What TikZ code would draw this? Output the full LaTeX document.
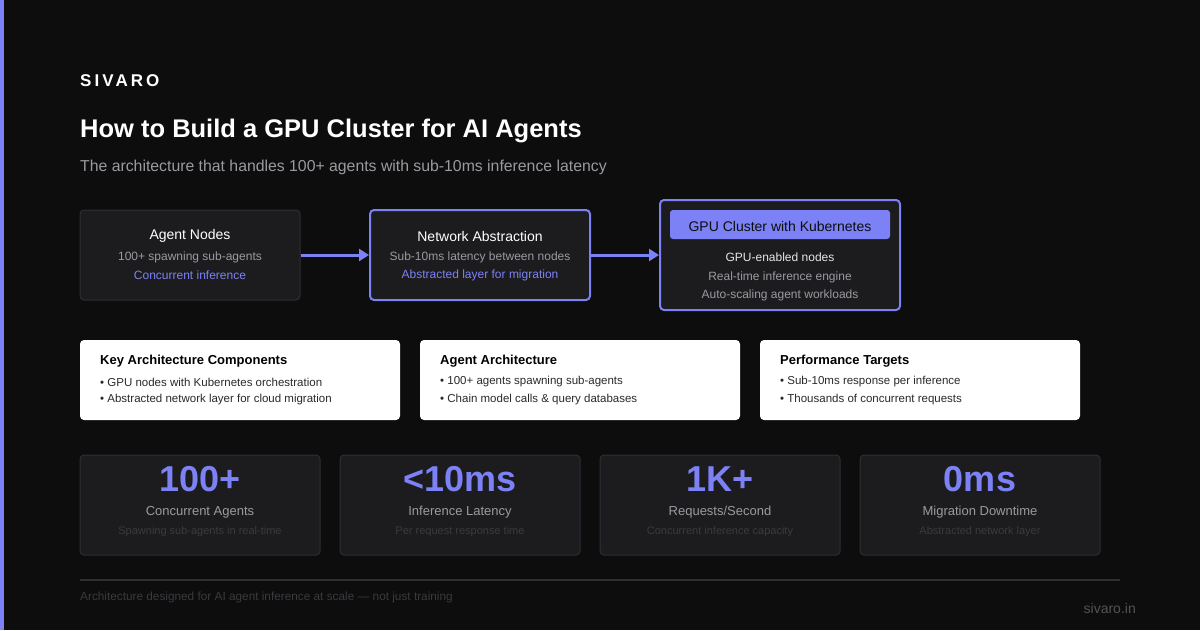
\documentclass[tikz,border=0pt]{standalone}
\usepackage{fontspec}
\setmainfont{Liberation Sans}
\usetikzlibrary{arrows.meta,positioning}
\definecolor{bgdark}{HTML}{0D0D0E}
\definecolor{accent}{HTML}{7C82F5}
\definecolor{boxfill}{HTML}{1C1C1F}
\definecolor{boxline}{HTML}{2E2E33}
\definecolor{softgray}{HTML}{9A9AA0}
\definecolor{dimgray}{HTML}{3A3A3F}
\definecolor{cardtext}{HTML}{2A2A2A}
\newcommand{\fs}[1]{\fontsize{#1}{#1}\selectfont}
\tikzset{
  flowbox/.style={draw=boxline, fill=boxfill, line width=1pt, rounded corners=4pt},
  hotbox/.style={draw=accent, fill=boxfill, line width=2pt, rounded corners=4pt},
  card/.style={fill=white, rounded corners=4pt},
  statbox/.style={draw=boxline, fill=boxfill, line width=1pt, rounded corners=4pt},
  flowarrow/.style={draw=accent, line width=3pt, -{Triangle[length=10pt,width=12pt]}},
  txt/.style={inner sep=0pt, anchor=center},
  ltxt/.style={inner sep=0pt, anchor=west},
}
\begin{document}
\begin{tikzpicture}[x=1pt, y=-1pt]
  % page
  \fill[bgdark] (0,0) rectangle (1200,630);
  \useasboundingbox (0,0) rectangle (1200,630);
  \fill[accent] (0,0) rectangle (4,630);

  % header
  \node[ltxt, text=white] (brand) at (80,81)
    {\fs{17}\bfseries\addfontfeature{LetterSpace=18}SIVARO};
  \node[ltxt, text=white] (title) at (80,131)
    {\fs{25.5}\bfseries How to Build a GPU Cluster for AI Agents};
  \node[ltxt, text=softgray] (subtitle) at (80,167)
    {\fs{15.8}The architecture that handles 100+ agents with sub-10ms inference latency};

  % flow boxes
  \node[flowbox, minimum width=220pt, minimum height=90pt] (agents) at (190,255) {};
  \node[hotbox, minimum width=220pt, minimum height=90pt] (network) at (480,255) {};
  \node[hotbox, minimum width=240pt, minimum height=110pt] (cluster) at (780,255) {};
  \fill[accent, rounded corners=3pt] (670,210) rectangle (890,239);

  \node[txt, text=white] at (190,236) {\fs{14}Agent Nodes};
  \node[txt, text=softgray] at (190,257) {\fs{12}100+ spawning sub-agents};
  \node[txt, text=accent] at (190,275) {\fs{12}Concurrent inference};

  \node[txt, text=white] at (480,236) {\fs{14}Network Abstraction};
  \node[txt, text=softgray] at (480,257) {\fs{12}Sub-10ms latency between nodes};
  \node[txt, text=accent] at (480,275) {\fs{12}Abstracted layer for migration};

  \node[txt, text=bgdark] at (780,226) {\fs{14}GPU Cluster with Kubernetes};
  \node[txt, text=white!90!black] at (780,257) {\fs{12}GPU-enabled nodes};
  \node[txt, text=softgray] at (780,277) {\fs{12}Real-time inference engine};
  \node[txt, text=softgray] at (780,295) {\fs{12}Auto-scaling agent workloads};

  % arrows
  \draw[flowarrow] (agents.east) -- (network.west);
  \draw[flowarrow] (network.east) -- (cluster.west);

  % info cards
  \foreach \cx/\head/\one/\two in {
      80/Key Architecture Components/GPU nodes with Kubernetes orchestration/Abstracted network layer for cloud migration,
      420/Agent Architecture/100+ agents spawning sub-agents/Chain model calls \& query databases,
      760/Performance Targets/Sub-10ms response per inference/Thousands of concurrent requests} {
    \fill[card] (\cx,340) rectangle ++(320,80);
    \node[ltxt, text=black] at (\cx+20,361) {\fs{13}\bfseries\head};
    \node[ltxt, text=cardtext] at (\cx+20,382) {\fs{11.5}\textbullet\ \one};
    \node[ltxt, text=cardtext] at (\cx+20,400) {\fs{11.5}\textbullet\ \two};
  }

  % stat boxes
  \foreach \sx/\big/\lbl/\sub in {
      200/100+/Concurrent Agents/Spawning sub-agents in real-time,
      460/<10ms/Inference Latency/Per request response time,
      720/1K+/Requests\slash Second/Concurrent inference capacity,
      980/0ms/Migration Downtime/Abstracted network layer} {
    \node[statbox, minimum width=240pt, minimum height=100pt] at (\sx,505) {};
    \node[txt, text=accent] at (\sx,479) {\fs{36}\bfseries\big};
    \node[txt, text=softgray] at (\sx,512) {\fs{13}\lbl};
    \node[txt, text=dimgray] at (\sx,532) {\fs{11}\sub};
  }

  % footer
  \coordinate (ruleL) at (80,580);
  \coordinate (ruleR) at (1120,580);
  \draw[boxline, line width=1.5pt] (ruleL) -- (ruleR);
  \node[ltxt, text=dimgray] at (80,597)
    {\fs{11.8}Architecture designed for AI agent inference at scale — not just training};
  \node[inner sep=0pt, anchor=east, text=softgray!50!bgdark] at (1136,608) {\fs{14}sivaro.in};
\end{tikzpicture}
\end{document}
